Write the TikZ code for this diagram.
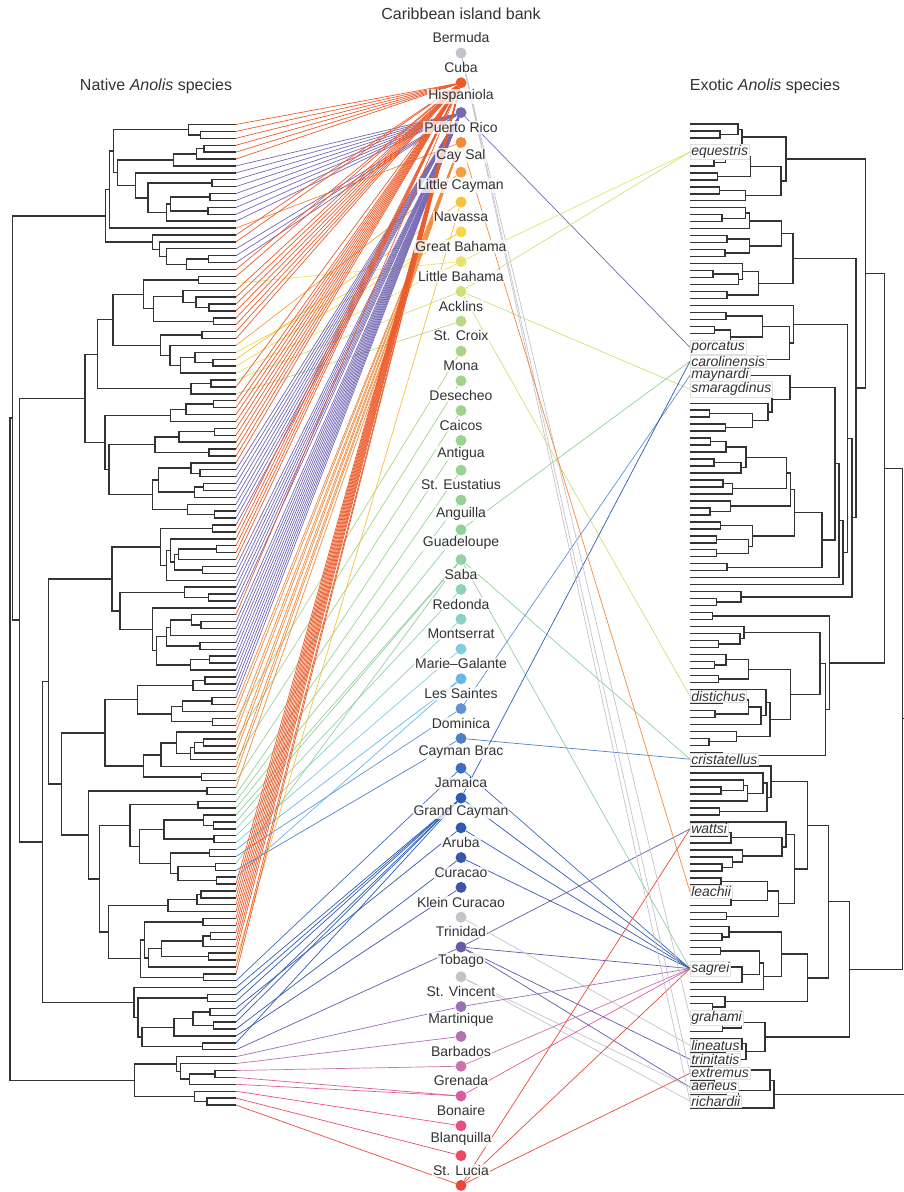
\documentclass[tikz,border=0pt]{standalone}
\usepackage{fontspec}
\setmainfont{Liberation Sans}
\usetikzlibrary{positioning,backgrounds}

% island colours
\definecolor{bermuda}{HTML}{C3C3CA}
\definecolor{cuba}{HTML}{EC5A2A}
\definecolor{hisp}{HTML}{7468B4}
\definecolor{prico}{HTML}{F08A3C}
\definecolor{caysal}{HTML}{F4A040}
\definecolor{lcayman}{HTML}{F7C23A}
\definecolor{navassa}{HTML}{F5D843}
\definecolor{gbahama}{HTML}{E6E26A}
\definecolor{lbahama}{HTML}{CFE07A}
\definecolor{acklins}{HTML}{B8DA80}
\definecolor{stcroix}{HTML}{A8D585}
\definecolor{mona}{HTML}{A2D38A}
\definecolor{desecheo}{HTML}{9ED28E}
\definecolor{caicos}{HTML}{9AD291}
\definecolor{antigua}{HTML}{98D294}
\definecolor{steustatius}{HTML}{96D296}
\definecolor{anguilla}{HTML}{94D198}
\definecolor{guadeloupe}{HTML}{92D1A0}
\definecolor{saba}{HTML}{8ED2B4}
\definecolor{redonda}{HTML}{88D0C8}
\definecolor{montserrat}{HTML}{7ECDE0}
\definecolor{mgalante}{HTML}{66B8E8}
\definecolor{lsaintes}{HTML}{5E94D4}
\definecolor{dominica}{HTML}{4E80C8}
\definecolor{cbrac}{HTML}{3A6CBF}
\definecolor{jamaica}{HTML}{2C5CB4}
\definecolor{gcayman}{HTML}{2F5AB2}
\definecolor{aruba}{HTML}{3558AE}
\definecolor{curacao}{HTML}{3E54A8}
\definecolor{kcuracao}{HTML}{C3C3CA}
\definecolor{trinidad}{HTML}{6758AA}
\definecolor{tobago}{HTML}{C3C3CA}
\definecolor{stvincent}{HTML}{9B70B4}
\definecolor{martinique}{HTML}{B472B0}
\definecolor{barbados}{HTML}{C875AC}
\definecolor{grenada}{HTML}{DC5CA0}
\definecolor{bonaire}{HTML}{EC4C84}
\definecolor{blanquilla}{HTML}{EC4A64}
\definecolor{stlucia}{HTML}{E9473C}
\definecolor{treeline}{HTML}{333333}

\tikzset{
  branch/.style={draw=treeline, line width=1.4pt},
  isle/.style={circle, inner sep=0pt, minimum size=11pt},
  isle label/.style={font=\fontsize{14}{14}\selectfont, text=treeline,
    fill=white, fill opacity=0.75, text opacity=1, inner sep=1pt},
  head/.style={font=\fontsize{16}{16}\selectfont, text=treeline},
  link/.style={line width=0.7pt},
  sp label/.style={anchor=west, font=\fontsize{14}{14}\selectfont\itshape,
    text=treeline, fill=white, draw=black!12, line width=0.5pt, inner sep=1pt}
}

% recursive clade: tips #1..#2, leaves node y in \tcY and height in \tcH
\newcommand\treeclade[2]{%
  \begingroup
  \edef\cLo{#1}\edef\cUp{#2}%
  \ifnum\cLo=\cUp\relax
    \pgfmathsetmacro\cY{\tfirst+(\cLo-1)*\tstep}%
    \xdef\tcY{\cY}\xdef\tcH{0}%
  \else
    \pgfmathtruncatemacro\cHi{\cUp-1}%
    \pgfmathrandominteger{\cSpl}{\cLo}{\cHi}%
    \pgfmathtruncatemacro\cNxt{\cSpl+1}%
    \treeclade{\cLo}{\cSpl}\let\cYa\tcY\let\cHa\tcH
    \treeclade{\cNxt}{\cUp}\let\cYb\tcY\let\cHb\tcH
    \pgfmathsetmacro\cFr{ln(\cUp-\cLo+1)/ln(\tcount)}%
    \pgfmathsetmacro\cH{max(max(\cHa,\cHb)+4,\theight*\cFr^0.9*(1-0.6*rnd*(1-\cFr)))}%
    \pgfmathsetmacro\cXa{\tx+\tdir*\cHa}%
    \pgfmathsetmacro\cXb{\tx+\tdir*\cHb}%
    \pgfmathsetmacro\cXn{\tx+\tdir*\cH}%
    \draw[branch] (\cXa,\cYa) -- (\cXn,\cYa) -- (\cXn,\cYb) -- (\cXb,\cYb);
    \pgfmathsetmacro\cY{(\cYa+\cYb)/2}%
    \xdef\tcY{\cY}\xdef\tcH{\cH}%
  \fi
  \endgroup}

\begin{document}
\begin{tikzpicture}[x=1pt,y=-1pt]
  \useasboundingbox (0,0) rectangle (904,1192);
  \pgfmathsetseed{11}

  \node[head] (bank) at (461,14) {Caribbean island bank};
  \node[head] (native) at (156,86) {Native \emph{Anolis} species};
  \node[head] (exotic) at (765,86) {Exotic \emph{Anolis} species};

  % native tree
  \def\tfirst{124.5}\def\tstep{6.905}\def\tcount{143}
  \def\tx{236}\def\tdir{-1}\def\theight{226}
  \treeclade{1}{135}\let\rYa\tcY\let\rHa\tcH
  \treeclade{136}{143}\let\rYb\tcY\let\rHb\tcH
  \pgfmathsetmacro\rXa{236-\rHa}\pgfmathsetmacro\rXb{236-\rHb}
  \draw[branch] (\rXa,\rYa) -- (10,\rYa) -- (10,\rYb) -- (\rXb,\rYb);
  \foreach \t in {1,...,143}
    \coordinate (L\t) at (236,{124.5+(\t-1)*6.905});

  % exotic tree
  \begin{scope}
    \clip (600,0) rectangle (904,1192);
    \def\tfirst{124}\def\tstep{6.98}\def\tcount{142}
    \def\tx{690}\def\tdir{1}\def\theight{215}
    \treeclade{1}{135}\let\rYa\tcY\let\rHa\tcH
    \treeclade{136}{142}\let\rYb\tcY\let\rHb\tcH
    \pgfmathsetmacro\rXa{690+\rHa}\pgfmathsetmacro\rXb{690+\rHb}
    \draw[branch] (\rXa,\rYa) -- (930,\rYa) -- (930,\rYb) -- (\rXb,\rYb);
  \end{scope}

  % islands
  \foreach \nm/\lbl [count=\i] in {bermuda/Bermuda, cuba/Cuba, hisp/Hispaniola,
      prico/Puerto Rico, caysal/Cay Sal, lcayman/Little Cayman, navassa/Navassa,
      gbahama/Great Bahama, lbahama/Little Bahama, acklins/Acklins, stcroix/St. Croix,
      mona/Mona, desecheo/Desecheo, caicos/Caicos, antigua/Antigua,
      steustatius/St. Eustatius, anguilla/Anguilla, guadeloupe/Guadeloupe, saba/Saba,
      redonda/Redonda, montserrat/Montserrat, mgalante/Marie--Galante,
      lsaintes/Les Saintes, dominica/Dominica, cbrac/Cayman Brac, jamaica/Jamaica,
      gcayman/Grand Cayman, aruba/Aruba, curacao/Curacao, kcuracao/Klein Curacao,
      trinidad/Trinidad, tobago/Tobago, stvincent/St. Vincent, martinique/Martinique,
      barbados/Barbados, grenada/Grenada, bonaire/Bonaire, blanquilla/Blanquilla,
      stlucia/St. Lucia} {
    \node[isle, fill=\nm] (\nm) at (461,{53+(\i-1)*29.8}) {};
    \node[isle label, above=3pt of \nm] (\nm-l) {\lbl};
  }

  % exotic species
  \foreach \sp/\t in {equestris/5, porcatus/33, carolinensis/35, maynardi/37,
      smaragdinus/39, distichus/83, cristatellus/92, wattsi/102, leachii/111,
      sagrei/122, grahami/129, lineatus/133, trinitatis/135, extremus/137,
      aeneus/139, richardii/141}
    \node[sp label] (\sp) at (690,{124+(\t-1)*6.98}) {\sp};

  \begin{scope}[on background layer]
    % native species to island
    \foreach \isl [count=\t] in {cuba,cuba,cuba,cuba,cuba,cuba,
        hisp,hisp,hisp,hisp,hisp,hisp,hisp,hisp,hisp,prico,cuba,cuba,
        hisp,hisp,hisp,cuba,cuba,gbahama,cuba,cuba,cuba,cuba,cuba,cuba,cuba,cuba,
        caysal,navassa,lcayman,navassa,gbahama,lbahama,cuba,acklins,
        cuba,cuba,cuba,cuba,cuba,cuba,cuba,cuba,cuba,cuba,
        hisp,hisp,hisp,hisp,hisp,hisp,hisp,hisp,hisp,cuba,cuba,cuba,cuba,cuba,
        hisp,hisp,hisp,hisp,hisp,hisp,hisp,cuba,
        hisp,hisp,hisp,hisp,hisp,hisp,hisp,hisp,hisp,hisp,hisp,hisp,
        prico,prico,stcroix,prico,prico,mona,prico,prico,desecheo,prico,prico,
        caicos,prico,antigua,steustatius,anguilla,guadeloupe,guadeloupe,saba,
        redonda,montserrat,mgalante,lsaintes,guadeloupe,dominica,mgalante,
        cuba,cuba,cuba,cuba,cuba,cuba,cuba,cuba,cuba,cuba,cuba,lcayman,cuba,cuba,
        cbrac,jamaica,jamaica,jamaica,gcayman,jamaica,jamaica,aruba,curacao,
        jamaica,trinidad,stvincent,martinique,barbados,grenada,grenada,bonaire,
        blanquilla,stlucia}
      \draw[link, draw=\isl] (L\t) -- (\isl);
    % island to exotic species
    \foreach \isl/\sp in {hisp/porcatus, gbahama/equestris, lbahama/equestris,
        lbahama/smaragdinus, lbahama/distichus, anguilla/carolinensis,
        guadeloupe/cristatellus, guadeloupe/sagrei, dominica/cristatellus,
        lsaintes/maynardi, jamaica/carolinensis, gcayman/sagrei, jamaica/sagrei,
        cbrac/sagrei, aruba/sagrei, trinidad/sagrei, trinidad/trinitatis,
        trinidad/aeneus, trinidad/wattsi, tobago/richardii, tobago/aeneus,
        kcuracao/lineatus, stvincent/sagrei, barbados/sagrei, grenada/sagrei,
        stlucia/wattsi, stlucia/sagrei, stlucia/extremus, bermuda/grahami,
        bermuda/extremus, bermuda/richardii, prico/leachii}
      \draw[link, draw=\isl] (\isl) -- (\sp.west);
  \end{scope}
\end{tikzpicture}
\end{document}
